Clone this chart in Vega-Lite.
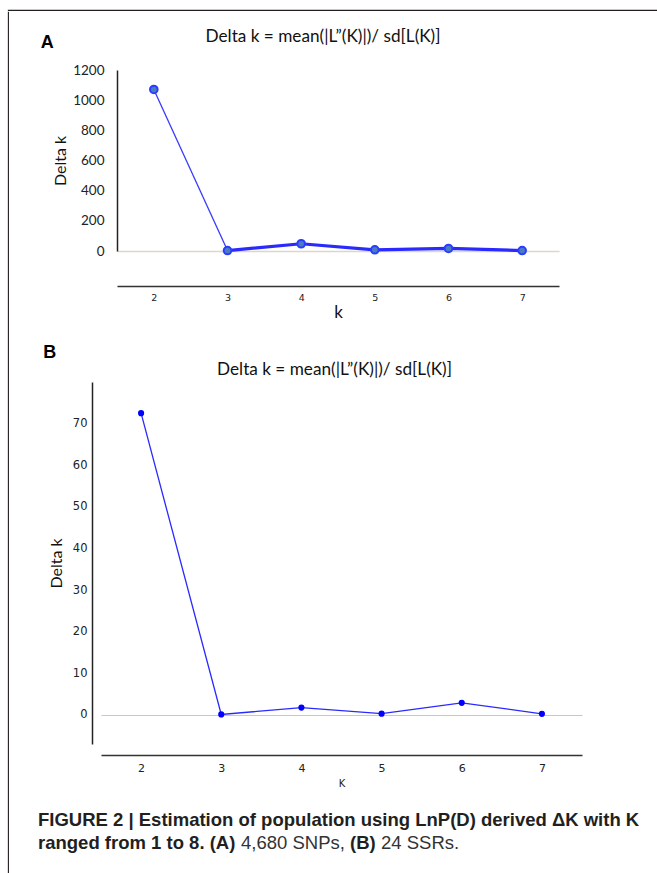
{
  "$schema": "https://vega.github.io/schema/vega-lite/v6.json",
  "padding": {"left": 7, "top": 9, "right": 0, "bottom": 0},
  "background": "white",
  "config": {
    "view": {"stroke": null},
    "axis": {"grid": false, "labelOverlap": false}
  },
  "datasets": {
    "snp": [
      {"k": 2, "delta": 1071},
      {"k": 3, "delta": 3},
      {"k": 4, "delta": 48},
      {"k": 5, "delta": 8},
      {"k": 6, "delta": 17},
      {"k": 7, "delta": 3}
    ],
    "ssr": [
      {"k": 2, "delta": 72.5},
      {"k": 3, "delta": 0.1},
      {"k": 4, "delta": 1.75},
      {"k": 5, "delta": 0.3},
      {"k": 6, "delta": 2.9},
      {"k": 7, "delta": 0.25}
    ],
    "empty": []
  },
  "spacing": 0,
  "vconcat": [
    {"data": {"name": "empty"}, "mark": "text", "width": 650, "height": 0.01, "view": {"stroke": "#231f20", "strokeWidth": 1.1}},
    {
      "spacing": 29,
      "hconcat": [
        {"data": {"name": "empty"}, "mark": "text", "width": 0.01, "height": 864, "view": {"stroke": "#231f20", "strokeWidth": 1.1}},
        {
          "spacing": 14,
          "vconcat": [
            {"data": {"name": "empty"}, "mark": "text", "width": 1, "height": 0.01},
            {
              "spacing": 22,
              "vconcat": [
                {
                  "spacing": 0,
                  "hconcat": [
                    {"data": {"name": "empty"}, "mark": "text", "width": 2, "height": 1},
                    {
                      "title": {"text": "A", "anchor": "start", "frame": "bounds", "font": "Liberation Sans", "fontSize": 18, "fontWeight": "bold", "color": "#000", "dx": -12, "dy": 24, "offset": 0},
                      "vconcat": [
                        {
                          "width": 442,
                          "height": 181,
                          "title": {"text": "Delta k = mean(|L”(K)|)/ sd[L(K)]", "font": "Lato", "fontSize": 17.2, "fontWeight": "normal", "color": "#111", "anchor": "middle", "dx": -15, "offset": 18},
                          "data": {"name": "snp"},
                          "encoding": {
                            "x": {"field": "k", "type": "quantitative", "title": "k", "scale": {"domain": [1.5, 7.5], "nice": false, "zero": false},
                              "axis": {"values": [2, 3, 4, 5, 6, 7], "format": "d", "offset": 35, "domainColor": "#333", "domainWidth": 1.5, "ticks": false, "labelPadding": 6, "labelFont": "DejaVu Sans", "labelFontSize": 9.5, "labelColor": "#222", "titleFont": "Lato", "titleFontSize": 17, "titleFontWeight": "normal", "titleColor": "#111", "titlePadding": 3}},
                            "y": {"field": "delta", "type": "quantitative", "title": "Delta k", "scale": {"domain": [0, 1200], "nice": false},
                              "axis": {"values": [0, 200, 400, 600, 800, 1000, 1200], "format": "d", "labelOverlap": false, "grid": true, "gridWidth": 1.5, "gridColor": {"condition": {"test": "datum.value === 0", "value": "#dcd7c8"}, "value": "transparent"}, "domainColor": "#222", "domainWidth": 1.5, "ticks": false, "labelPadding": 13, "labelFont": "Lato", "labelFontSize": 13.5, "labelColor": "#222", "titleFont": "Lato", "titleFontSize": 16, "titleFontWeight": "normal", "titleColor": "#111", "titlePadding": 4}}
                          },
                          "layer": [
                            {"transform": [{"filter": "datum.k <= 3"}], "mark": {"type": "line", "color": "#3a3aff", "strokeWidth": 1.3}},
                            {"transform": [{"filter": "datum.k >= 3"}], "mark": {"type": "line", "color": "#2a2aff", "strokeWidth": 3.2}},
                            {"mark": {"type": "point", "filled": true, "fill": "#4a7cc0", "stroke": "#2a3cff", "strokeWidth": 2, "size": 58, "opacity": 1}}
                          ]
                        }
                      ]
                    }
                  ]
                },
                {
                  "spacing": 0,
                  "hconcat": [
                    {"data": {"name": "empty"}, "mark": "text", "width": 5, "height": 1},
                    {
                      "title": {"text": "B", "anchor": "start", "frame": "bounds", "font": "Liberation Sans", "fontSize": 18, "fontWeight": "bold", "color": "#000", "dx": -5, "offset": -1},
                      "vconcat": [
                        {
                          "width": 481,
                          "height": 362,
                          "title": {"text": "Delta k = mean(|L”(K)|)/ sd[L(K)]", "font": "Lato", "fontSize": 17.2, "fontWeight": "normal", "color": "#111", "anchor": "middle", "dx": -7, "offset": 4},
                          "data": {"name": "ssr"},
                          "encoding": {
                            "x": {"field": "k", "type": "quantitative", "title": "K", "scale": {"domain": [1.5, 7.5], "nice": false, "zero": false},
                              "axis": {"values": [2, 3, 4, 5, 6, 7], "format": "d", "offset": 11, "domainColor": "#333", "domainWidth": 1.5, "ticks": false, "labelPadding": 7, "labelFont": "DejaVu Sans", "labelFontSize": 11, "labelColor": "#222", "titleFont": "DejaVu Sans", "titleFontSize": 10, "titleFontWeight": "normal", "titleColor": "#222", "titlePadding": 5}},
                            "y": {"field": "delta", "type": "quantitative", "title": "Delta k", "scale": {"domain": [-7, 80], "nice": false, "zero": false},
                              "axis": {"values": [0, 10, 20, 30, 40, 50, 60, 70], "format": "d", "labelOverlap": false, "offset": 9, "grid": true, "gridWidth": 1.2, "gridColor": {"condition": {"test": "datum.value === 0", "value": "#c8c8c8"}, "value": "transparent"}, "domainColor": "#222", "domainWidth": 1.5, "ticks": false, "labelPadding": 5, "labelFont": "DejaVu Sans", "labelFontSize": 11.5, "labelColor": "#222", "titleFont": "Lato", "titleFontSize": 16, "titleFontWeight": "normal", "titleColor": "#111", "titlePadding": 8}}
                          },
                          "layer": [
                            {"mark": {"type": "line", "color": "#2a2aff", "strokeWidth": 1.3}},
                            {"mark": {"type": "point", "filled": true, "color": "#0000ff", "size": 38, "opacity": 1}}
                          ]
                        }
                      ]
                    }
                  ]
                },
                {
                  "spacing": 3,
                  "vconcat": [
                    {
                      "data": {"name": "empty"},
                      "mark": "text",
                      "width": 1,
                      "height": 1,
                      "title": {"text": "FIGURE 2 | Estimation of population using LnP(D) derived ΔK with K", "anchor": "start", "frame": "group", "offset": 0, "font": "Liberation Sans", "fontSize": 18.5, "fontWeight": "bold", "color": "#231f20"}
                    },
                    {
                      "spacing": 5,
                      "hconcat": [
                        {"data": {"name": "empty"}, "mark": "text", "width": 1, "height": 1,
                         "title": {"text": "ranged from 1 to 8. (A)", "anchor": "start", "frame": "group", "offset": 0, "font": "Liberation Sans", "fontSize": 18.5, "fontWeight": "bold", "color": "#231f20"}},
                        {"data": {"name": "empty"}, "mark": "text", "width": 1, "height": 1,
                         "title": {"text": "4,680 SNPs,", "anchor": "start", "frame": "group", "offset": 0, "font": "Liberation Sans", "fontSize": 18.5, "fontWeight": "normal", "color": "#333"}},
                        {"data": {"name": "empty"}, "mark": "text", "width": 1, "height": 1,
                         "title": {"text": "(B)", "anchor": "start", "frame": "group", "offset": 0, "font": "Liberation Sans", "fontSize": 18.5, "fontWeight": "bold", "color": "#231f20"}},
                        {"data": {"name": "empty"}, "mark": "text", "width": 1, "height": 1,
                         "title": {"text": "24 SSRs.", "anchor": "start", "frame": "group", "offset": 0, "font": "Liberation Sans", "fontSize": 18.5, "fontWeight": "normal", "color": "#333"}}
                      ]
                    }
                  ]
                }
              ]
            }
          ]
        }
      ]
    }
  ]
}
